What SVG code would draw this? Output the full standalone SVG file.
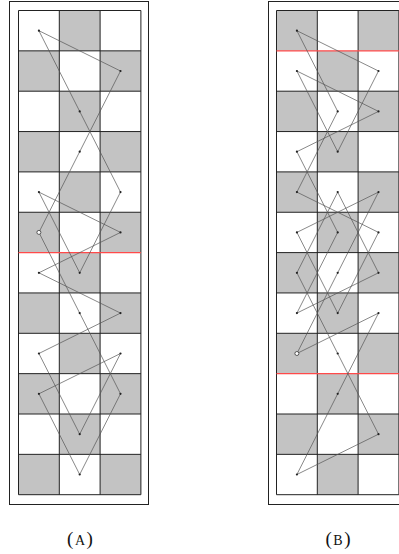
<svg xmlns="http://www.w3.org/2000/svg" width="399" height="554" viewBox="0 0 399 554">
<style>
.frame{fill:none;stroke:#222;stroke-width:1}
.bg{fill:#fff}
.sh{fill:#c3c3c3}
.gl{stroke:#222;stroke-width:1;fill:none}
.red{stroke:#ff4a4a;stroke-width:1.4}
.tour{fill:none;stroke:#555;stroke-width:0.7;stroke-linejoin:round}
.dot{fill:#222}
.start{fill:#fff;stroke:#222;stroke-width:0.7}
.lbl{font-family:"Liberation Serif","DejaVu Serif",serif;font-size:19px;fill:#111}
.sc{font-size:14px}
</style>
<rect width="399" height="554" fill="#fff"/>

<g id="panelA">
  <rect class="frame" x="9.5" y="1.5" width="139" height="503"/>
  <g id="gridA">
    <rect class="bg" x="18.5" y="10.5" width="122.4" height="484.2"/>
    <rect class="sh" x="59.3" y="10.5" width="40.8" height="40.35"/>
    <rect class="sh" x="18.5" y="50.85" width="40.8" height="40.35"/>
    <rect class="sh" x="100.1" y="50.85" width="40.8" height="40.35"/>
    <rect class="sh" x="59.3" y="91.2" width="40.8" height="40.35"/>
    <rect class="sh" x="18.5" y="131.55" width="40.8" height="40.35"/>
    <rect class="sh" x="100.1" y="131.55" width="40.8" height="40.35"/>
    <rect class="sh" x="59.3" y="171.9" width="40.8" height="40.35"/>
    <rect class="sh" x="18.5" y="212.25" width="40.8" height="40.35"/>
    <rect class="sh" x="100.1" y="212.25" width="40.8" height="40.35"/>
    <rect class="sh" x="59.3" y="252.6" width="40.8" height="40.35"/>
    <rect class="sh" x="18.5" y="292.95" width="40.8" height="40.35"/>
    <rect class="sh" x="100.1" y="292.95" width="40.8" height="40.35"/>
    <rect class="sh" x="59.3" y="333.3" width="40.8" height="40.35"/>
    <rect class="sh" x="18.5" y="373.65" width="40.8" height="40.35"/>
    <rect class="sh" x="100.1" y="373.65" width="40.8" height="40.35"/>
    <rect class="sh" x="59.3" y="414" width="40.8" height="40.35"/>
    <rect class="sh" x="18.5" y="454.35" width="40.8" height="40.35"/>
    <rect class="sh" x="100.1" y="454.35" width="40.8" height="40.35"/>
    <path class="gl" d="M18.5 10.5V494.7M59.3 10.5V494.7M100.1 10.5V494.7M140.9 10.5V494.7
      M18.5 10.5H140.9M18.5 50.85H140.9M18.5 91.2H140.9M18.5 131.55H140.9M18.5 171.9H140.9M18.5 212.25H140.9
      M18.5 292.95H140.9M18.5 333.3H140.9M18.5 373.65H140.9M18.5 414H140.9M18.5 454.35H140.9M18.5 494.7H140.9"/>
    <line class="red" x1="18.5" y1="252.6" x2="140.9" y2="252.6"/>
  </g>
  <g id="tourA">
    <polygon class="tour" points="38.9,232.4 79.7,151.7 120.5,71 38.9,30.7 79.7,111.4 120.5,192.1 79.7,272.8 38.9,192.1 120.5,232.4 38.9,272.8 120.5,313.1 38.9,353.5 79.7,434.2 120.5,353.5 38.9,393.8 79.7,474.5 120.5,393.8 79.7,313.1"/>
    <g class="dot">
      <circle cx="79.7" cy="151.7" r="1.1"/><circle cx="120.5" cy="71" r="1.1"/><circle cx="38.9" cy="30.7" r="1.1"/>
      <circle cx="79.7" cy="111.4" r="1.1"/><circle cx="120.5" cy="192.1" r="1.1"/><circle cx="79.7" cy="272.8" r="1.1"/>
      <circle cx="38.9" cy="192.1" r="1.1"/><circle cx="120.5" cy="232.4" r="1.1"/><circle cx="38.9" cy="272.8" r="1.1"/>
      <circle cx="120.5" cy="313.1" r="1.1"/><circle cx="38.9" cy="353.5" r="1.1"/><circle cx="79.7" cy="434.2" r="1.1"/>
      <circle cx="120.5" cy="353.5" r="1.1"/><circle cx="38.9" cy="393.8" r="1.1"/><circle cx="79.7" cy="474.5" r="1.1"/>
      <circle cx="120.5" cy="393.8" r="1.1"/><circle cx="79.7" cy="313.1" r="1.1"/>
    </g>
    <circle class="start" cx="38.9" cy="232.4" r="2"/>
  </g>
  <text id="labelA" class="lbl" x="80" y="545" text-anchor="middle">(<tspan class="sc" dx="1.5">A</tspan><tspan dx="1.5">)</tspan></text>
</g>

<g id="panelB">
  <rect class="frame" x="268.5" y="1.5" width="139" height="503"/>
  <g id="gridB">
    <rect class="bg" x="276.5" y="10.5" width="122.4" height="484.2"/>
    <rect class="sh" x="276.5" y="10.5" width="40.8" height="40.35"/>
    <rect class="sh" x="358.1" y="10.5" width="40.8" height="40.35"/>
    <rect class="sh" x="317.3" y="50.85" width="40.8" height="40.35"/>
    <rect class="sh" x="276.5" y="91.2" width="40.8" height="40.35"/>
    <rect class="sh" x="358.1" y="91.2" width="40.8" height="40.35"/>
    <rect class="sh" x="317.3" y="131.55" width="40.8" height="40.35"/>
    <rect class="sh" x="276.5" y="171.9" width="40.8" height="40.35"/>
    <rect class="sh" x="358.1" y="171.9" width="40.8" height="40.35"/>
    <rect class="sh" x="317.3" y="212.25" width="40.8" height="40.35"/>
    <rect class="sh" x="276.5" y="252.6" width="40.8" height="40.35"/>
    <rect class="sh" x="358.1" y="252.6" width="40.8" height="40.35"/>
    <rect class="sh" x="317.3" y="292.95" width="40.8" height="40.35"/>
    <rect class="sh" x="276.5" y="333.3" width="40.8" height="40.35"/>
    <rect class="sh" x="358.1" y="333.3" width="40.8" height="40.35"/>
    <rect class="sh" x="317.3" y="373.65" width="40.8" height="40.35"/>
    <rect class="sh" x="276.5" y="414" width="40.8" height="40.35"/>
    <rect class="sh" x="358.1" y="414" width="40.8" height="40.35"/>
    <rect class="sh" x="317.3" y="454.35" width="40.8" height="40.35"/>
    <path class="gl" d="M276.5 10.5V494.7M317.3 10.5V494.7M358.1 10.5V494.7M398.9 10.5V494.7
      M276.5 10.5H398.9M276.5 91.2H398.9M276.5 131.55H398.9M276.5 171.9H398.9M276.5 212.25H398.9M276.5 252.6H398.9
      M276.5 292.95H398.9M276.5 333.3H398.9M276.5 414H398.9M276.5 454.35H398.9M276.5 494.7H398.9"/>
    <line class="red" x1="276.5" y1="50.85" x2="398.9" y2="50.85"/>
    <line class="red" x1="276.5" y1="373.65" x2="398.9" y2="373.65"/>
  </g>
  <g id="tourB">
    <polygon class="tour" points="296.9,353.5 337.7,272.8 378.5,192.1 296.9,232.4 337.7,313.1 378.5,232.4 296.9,192.1 337.7,111.4 296.9,30.7 378.5,71 337.7,151.7 296.9,71 378.5,111.4 296.9,151.7 337.7,232.4 296.9,313.1 378.5,272.8 337.7,192.1 296.9,272.8 337.7,353.5 378.5,434.2 296.9,474.5 337.7,393.8 378.5,313.1"/>
    <g class="dot">
      <circle cx="337.7" cy="272.8" r="1.1"/><circle cx="378.5" cy="192.1" r="1.1"/><circle cx="296.9" cy="232.4" r="1.1"/>
      <circle cx="337.7" cy="313.1" r="1.1"/><circle cx="378.5" cy="232.4" r="1.1"/><circle cx="296.9" cy="192.1" r="1.1"/>
      <circle cx="337.7" cy="111.4" r="1.1"/><circle cx="296.9" cy="30.7" r="1.1"/><circle cx="378.5" cy="71" r="1.1"/>
      <circle cx="337.7" cy="151.7" r="1.1"/><circle cx="296.9" cy="71" r="1.1"/><circle cx="378.5" cy="111.4" r="1.1"/>
      <circle cx="296.9" cy="151.7" r="1.1"/><circle cx="337.7" cy="232.4" r="1.1"/><circle cx="296.9" cy="313.1" r="1.1"/>
      <circle cx="378.5" cy="272.8" r="1.1"/><circle cx="337.7" cy="192.1" r="1.1"/><circle cx="296.9" cy="272.8" r="1.1"/>
      <circle cx="337.7" cy="353.5" r="1.1"/><circle cx="378.5" cy="434.2" r="1.1"/><circle cx="296.9" cy="474.5" r="1.1"/>
      <circle cx="337.7" cy="393.8" r="1.1"/><circle cx="378.5" cy="313.1" r="1.1"/>
    </g>
    <circle class="start" cx="296.9" cy="353.5" r="2"/>
  </g>
  <text id="labelB" class="lbl" x="338" y="545" text-anchor="middle">(<tspan class="sc" dx="1.5">B</tspan><tspan dx="1.5">)</tspan></text>
</g>
</svg>
